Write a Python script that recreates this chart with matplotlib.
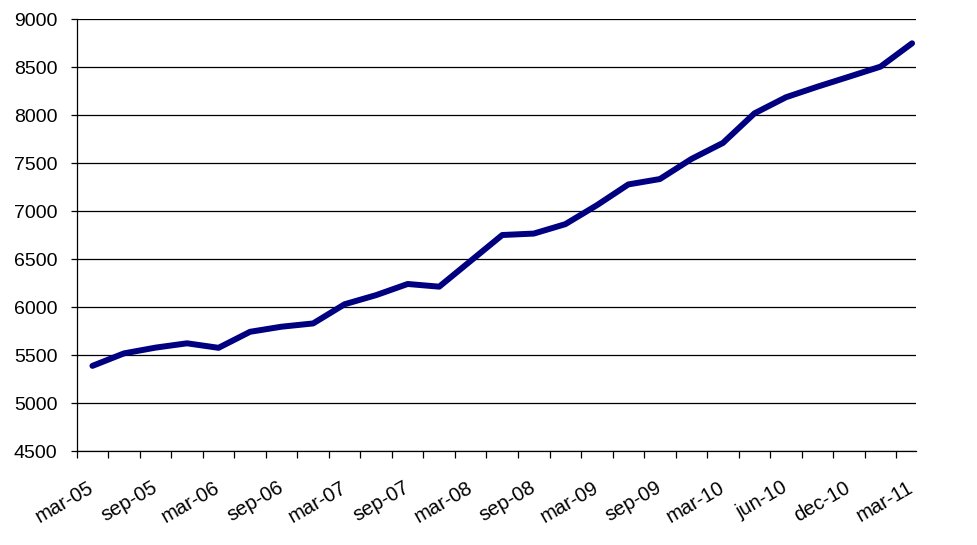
import numpy as np
import matplotlib
matplotlib.use('Agg')
import matplotlib.pyplot as plt

plt.rcParams['font.family'] = ['Liberation Sans', 'DejaVu Sans']

# quarterly values, mar-05 .. mar-11
values = [5390, 5520, 5580, 5625, 5578, 5745, 5798, 5832, 6032, 6127,
          6243, 6215, 6484, 6753, 6768, 6866, 7063, 7280, 7336, 7545,
          7712, 8020, 8188, 8298, 8402, 8507, 8750]
labels = ['mar-05', 'sep-05', 'mar-06', 'sep-06', 'mar-07', 'sep-07', 'mar-08',
          'sep-08', 'mar-09', 'sep-09', 'mar-10', 'jun-10', 'dec-10', 'mar-11']
yticks = np.arange(4500, 9001, 500)

x = np.arange(len(values))

fig = plt.figure(figsize=(9.78, 5.45), dpi=100)
ax = fig.add_axes([0.0784, 0.1719, 0.8579, 0.7927])

ax.plot(x, values, color='#000080', linewidth=4.3, solid_capstyle='round',
        solid_joinstyle='round', clip_on=False, zorder=3)

ax.set_ylim(4500, 9000)
ax.set_xlim(-0.5, 26.115)
ax.set_yticks(yticks)
ax.set_yticklabels([str(v) for v in yticks], fontsize=14)
ax.yaxis.grid(True, color='black', linewidth=0.9)
ax.set_axisbelow(True)

# tick marks between categories, labels on every other category
ax.set_xticks(np.arange(-0.5, 26, 1.0))
ax.set_xticklabels([])
ax.set_xticks(np.arange(0, 27, 2), minor=True)
ax.set_xticklabels(labels, minor=True, fontsize=14.5, rotation=30,
                   ha='right', va='center', rotation_mode='anchor')
ax.tick_params(axis='x', which='major', length=5, width=0.9, direction='out')
ax.tick_params(axis='x', which='minor', length=0, pad=25)
ax.tick_params(axis='y', length=4.3, width=0.9, pad=9.5)

for s in ['top', 'right']:
    ax.spines[s].set_visible(False)
for s in ['left', 'bottom']:
    ax.spines[s].set_linewidth(0.9)

fig.savefig('out.png', dpi=100)
plt.close()
